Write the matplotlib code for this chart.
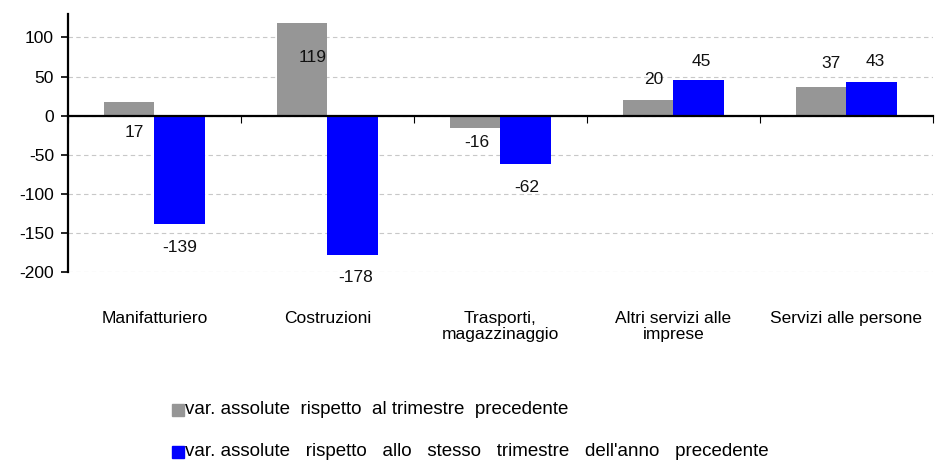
import numpy as np
import matplotlib.pyplot as plt
from matplotlib.transforms import blended_transform_factory

plt.rcParams['font.family'] = ['Liberation Sans', 'DejaVu Sans']
plt.rcParams['axes.unicode_minus'] = False

categories = ['Manifatturiero', 'Costruzioni', 'Trasporti,\nmagazzinaggio',
              'Altri servizi alle\nimprese', 'Servizi alle persone']
prev_quarter = [17, 119, -16, 20, 37]
prev_year = [-139, -178, -62, 45, 43]
series_names = ['var. assolute  rispetto  al trimestre  precedente',
                "var. assolute   rispetto   allo   stesso   trimestre   dell'anno   precedente"]

# label offsets in points (dx, dy) relative to bar end, to mimic the original placement
gray_offsets = [(3.6, -21.6), (7.5, -25), (1, -10.4), (4, 14.4), (7, 17)]
blue_offsets = [(0, -17), (2, -16), (1, -17), (2, 14), (2.5, 15)]

FS = 12.5

fig = plt.figure(figsize=(9.35, 4.63), dpi=100)
ax = fig.add_axes([0.0727, 0.4125, 0.925, 0.5573])

x = np.arange(len(categories))
w = 0.29
gray = '#969696'
blue = '#0000ff'
ax.bar(x - w / 2, prev_quarter, w, color=gray, zorder=3)
ax.bar(x + w / 2, prev_year, w, color=blue, zorder=3)

for i in range(len(categories)):
    for val, xx, off in ((prev_quarter[i], x[i] - w / 2, gray_offsets[i]),
                         (prev_year[i], x[i] + w / 2, blue_offsets[i])):
        ax.annotate(str(val), (xx, val), xytext=off, textcoords='offset points',
                    ha='center', va='center', fontsize=FS, color='#111111')

ax.set_xlim(-0.5, len(categories) - 0.5)
ax.set_ylim(-200, 130)
ax.set_yticks([-200, -150, -100, -50, 0, 50, 100])
ax.yaxis.grid(True, linestyle=(0, (4, 3)), color='#c8c8c8', linewidth=0.8, zorder=0)
ax.tick_params(axis='y', labelsize=FS, length=5, width=1.2, direction='out', pad=5)

for s in ['top', 'right']:
    ax.spines[s].set_visible(False)
ax.spines['left'].set_linewidth(1.6)
ax.spines['bottom'].set_position(('data', 0))
ax.spines['bottom'].set_linewidth(1.6)
ax.spines['bottom'].set_zorder(4)
ax.set_xticks(np.arange(len(categories) + 1) - 0.5)
ax.set_xticklabels([])
ax.tick_params(axis='x', length=5, width=0.8, direction='out')

trans = blended_transform_factory(ax.transData, ax.transAxes)
for i, c in enumerate(categories):
    ax.text(x[i], -0.15, c, transform=trans, ha='center', va='top',
            fontsize=FS, linespacing=1.1)

# legend entries
for k, (name, col) in enumerate(zip(series_names, [gray, blue])):
    yy = 1 - (410 + 42 * k) / 463
    fig.patches.append(plt.Rectangle((172 / 935, yy - 6 / 463), 12 / 935, 12 / 463,
                                     transform=fig.transFigure, color=col))
    fig.text(185 / 935, yy, name, ha='left', va='center', fontsize=13.5)

fig.savefig('out.png', dpi=100)
